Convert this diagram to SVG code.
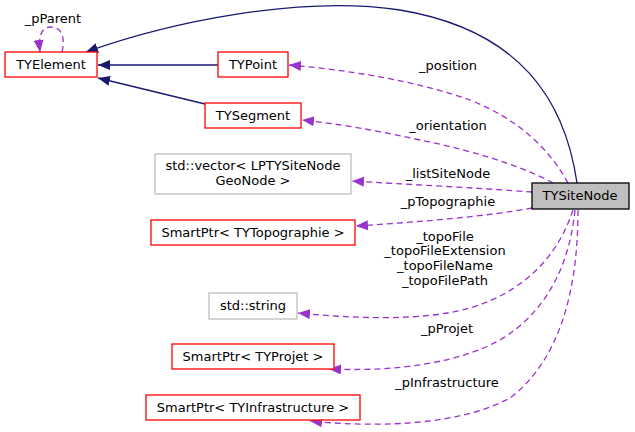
<svg xmlns="http://www.w3.org/2000/svg" width="635" height="432" viewBox="0 0 635 432">
<style>
text{font-family:"DejaVu Sans",sans-serif;font-size:13px;fill:#000;text-anchor:middle}
.red{fill:#fff;stroke:#ff0000;stroke-width:1.3}
.gray{fill:#fff;stroke:#bfbfbf;stroke-width:1.3}
.main{fill:#bfbfbf;stroke:#000;stroke-width:1.3}
.inh{fill:none;stroke:#191970;stroke-width:1.3}
.use{fill:none;stroke:#9a32cd;stroke-width:1.3;stroke-dasharray:6,4}
</style>
<defs>
<marker id="an" markerUnits="userSpaceOnUse" viewBox="0 0 12 10" refX="12" refY="5" markerWidth="12" markerHeight="10" orient="auto"><path d="M0,0L12,5L0,10Z" fill="#191970"/></marker>
<marker id="ap" markerUnits="userSpaceOnUse" viewBox="0 0 12 10" refX="12" refY="5" markerWidth="12" markerHeight="10" orient="auto"><path d="M0,0L12,5L0,10Z" fill="#9a32cd"/></marker>
</defs>
<g id="edges">
<path class="inh" marker-end="url(#an)" d="M577,183 C565,100 520,30 400,10 C300,-5 170,22 86,52"/>
<path class="inh" marker-end="url(#an)" d="M218,65 L98,65"/>
<path class="inh" marker-end="url(#an)" d="M205,104 L98,78"/>
<path class="use" marker-end="url(#ap)" d="M62,52 C66,35 60,27 51,27 C42,27 38,35 40,52"/>
<text x="53" y="23">_pParent</text>
<path class="use" marker-end="url(#ap)" d="M568,183 C550,150 520,120 470,100 C420,82 350,70 289,65"/>
<text x="448" y="70">_position</text>
<path class="use" marker-end="url(#ap)" d="M553,183 C520,165 470,150 420,140 C380,131 340,124 302,120"/>
<text x="448" y="130">_orientation</text>
<path class="use" marker-end="url(#ap)" d="M532,192 C480,188 400,184 352,181"/>
<text x="448" y="178">_listSiteNode</text>
<path class="use" marker-end="url(#ap)" d="M532,208 C490,216 420,222 356,226"/>
<text x="448" y="206">_pTopographie</text>
<path class="use" marker-end="url(#ap)" d="M573,210 C560,250 530,290 470,308 C420,322 350,318 298,313"/>
<text x="445" y="241">_topoFile</text>
<text x="445" y="255">_topoFileExtension</text>
<text x="445" y="270">_topoFileName</text>
<text x="445" y="285">_topoFilePath</text>
<path class="use" marker-end="url(#ap)" d="M575,210 C570,260 550,310 500,340 C460,362 400,372 329,369"/>
<text x="447" y="333">_pProjet</text>
<path class="use" marker-end="url(#ap)" d="M578,210 C578,290 560,360 510,398 C460,425 380,428 310,421"/>
<text x="447" y="387">_pInfrastructure</text>
</g>
<g id="TYElement"><rect class="red" x="5" y="52" width="92" height="25"/><text x="51" y="69">TYElement</text></g>
<g id="TYPoint"><rect class="red" x="218" y="52" width="70" height="25"/><text x="253" y="69">TYPoint</text></g>
<g id="TYSegment"><rect class="red" x="205" y="103" width="96" height="25"/><text x="253" y="120">TYSegment</text></g>
<g id="vector"><rect class="gray" x="155" y="154" width="196" height="40"/><text x="253" y="170">std::vector&lt; LPTYSiteNode</text><text x="253" y="185">GeoNode &gt;</text></g>
<g id="Topographie"><rect class="red" x="151" y="220" width="204" height="25"/><text x="253" y="237">SmartPtr&lt; TYTopographie &gt;</text></g>
<g id="string"><rect class="gray" x="209" y="293" width="88" height="26"/><text x="253" y="310">std::string</text></g>
<g id="Projet"><rect class="red" x="172" y="344" width="162" height="25"/><text x="253" y="361">SmartPtr&lt; TYProjet &gt;</text></g>
<g id="Infrastructure"><rect class="red" x="146" y="395" width="214" height="25"/><text x="253" y="412">SmartPtr&lt; TYInfrastructure &gt;</text></g>
<g id="TYSiteNode"><rect class="main" x="532" y="183" width="97" height="26"/><text x="580" y="200">TYSiteNode</text></g>
</svg>
